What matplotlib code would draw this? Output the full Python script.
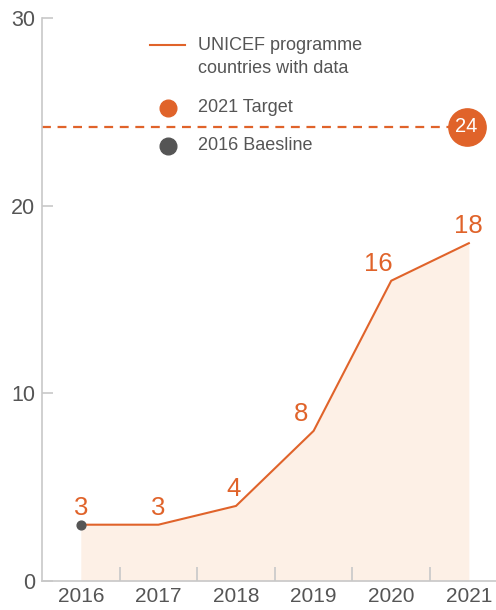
import numpy as np
import matplotlib.pyplot as plt
from matplotlib.lines import Line2D

years = [2016, 2017, 2018, 2019, 2020, 2021]
countries = [3, 3, 4, 8, 16, 18]
target_year = 2021
target_value = 24
baseline_year = 2016
baseline_value = 3

orange = "#e0632a"
gray_txt = "#555555"
axis_gray = "#c8c8c8"
fill_col = "#fdf0e6"

plt.rcParams["font.family"] = ["Liberation Sans", "DejaVu Sans"]

W, H = 496, 610
fig = plt.figure(figsize=(W / 100, H / 100), dpi=100)
ax = fig.add_axes([42 / W, 29 / H, 454 / W, 563 / H])

ax.fill_between(years, countries, 0, color=fill_col, lw=0, zorder=1)
ax.plot(years, countries, color=orange, lw=1.5, zorder=3)
ax.scatter([baseline_year], [baseline_value], s=40, color=gray_txt, zorder=4)

# target line and bubble (drawn a touch above 24 as in the original)
ty = target_value + 0.2
ax.axhline(ty, xmin=0, xmax=(target_year - 0.1 - 2015.5) / 5.85,
           color=orange, lw=1.6, dashes=(4, 3), zorder=2)
ax.scatter([target_year - 0.03], [ty], s=720, color=orange, zorder=5)
ax.text(target_year - 0.03, ty, str(target_value), color="white",
        fontsize=14.5, ha="center", va="center", zorder=6)

# value labels
x_offs = [0, 0, -2, -9, -9, 0]
for x, v, dx in zip(years, countries, x_offs):
    ax.annotate(str(v), (x, v), xytext=(dx, 3.5), textcoords="offset points",
                ha="center", va="bottom", color=orange, fontsize=18.5)

ax.set_xlim(2015.5, 2021.35)
ax.set_ylim(0, 30)
ax.set_yticks([0, 10, 20, 30])
ax.set_xticks(years)
ax.set_xticks([y + 0.5 for y in years[:-1]], minor=True)
ax.tick_params(axis="x", which="major", length=0, pad=4, labelsize=15,
               labelcolor=gray_txt)
ax.tick_params(axis="x", which="minor", direction="in", length=10,
               width=1.2, color=axis_gray)
ax.tick_params(axis="y", direction="in", length=8, width=1.2, color=axis_gray,
               labelsize=15.5, labelcolor=gray_txt, pad=5)
for s in ["top", "right"]:
    ax.spines[s].set_visible(False)
for s in ["left", "bottom"]:
    ax.spines[s].set_color(axis_gray)
    ax.spines[s].set_linewidth(1.2)

# legend drawn by hand
fig.add_artist(Line2D([150 / W, 185 / W], [1 - 45 / H, 1 - 45 / H],
                      color=orange, lw=1.5))
fig.text(198 / W, 1 - 57 / H, "UNICEF programme\ncountries with data",
         fontsize=13, color=gray_txt, va="center", linespacing=1.45)
fig.add_artist(Line2D([168 / W], [1 - 108 / H], marker="o", markersize=12,
                      color=orange, lw=0))
fig.text(198 / W, 1 - 108 / H, "2021 Target", fontsize=13, color=gray_txt,
         va="center")
fig.add_artist(Line2D([168 / W], [1 - 146 / H], marker="o", markersize=12,
                      color=gray_txt, lw=0))
fig.text(198 / W, 1 - 146 / H, "2016 Baesline", fontsize=13, color=gray_txt,
         va="center")

fig.savefig("out.png", dpi=100)
